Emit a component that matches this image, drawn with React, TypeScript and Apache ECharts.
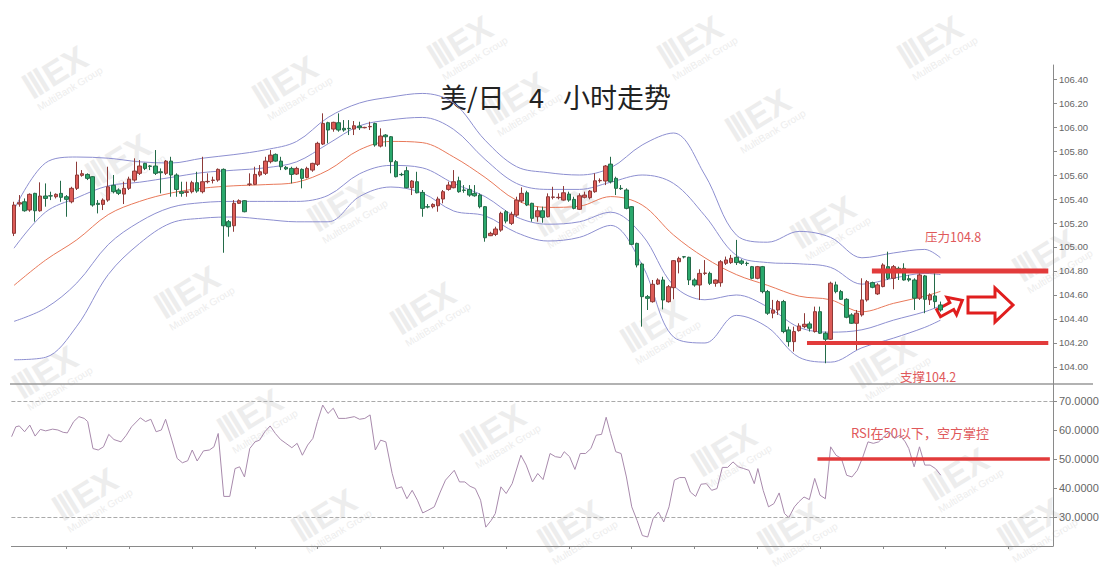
import React, { useEffect, useRef } from 'react';
import * as echarts from 'echarts';

// ---------- data ----------
const slotCount = 199; // 178 candles + empty future slots
const slots = Array.from({ length: slotCount }, (_, i) => String(i));

// [open, close, low, high]
const candles: number[][] = [
  [105.114,105.350,105.091,105.377],[105.358,105.369,105.336,105.433],[105.377,105.302,105.294,105.405],[105.308,105.439,105.294,105.447],
  [105.447,105.302,105.211,105.452],[105.302,105.425,105.294,105.539],[105.425,105.405,105.336,105.530],[105.427,105.425,105.391,105.461],
  [105.419,105.439,105.405,105.447],[105.447,105.414,105.377,105.552],[105.419,105.397,105.252,105.433],[105.377,105.489,105.364,105.502],
  [105.489,105.600,105.475,105.711],[105.597,105.611,105.586,105.641],[105.605,105.572,105.558,105.614],[105.586,105.350,105.336,105.591],
  [105.364,105.355,105.280,105.391],[105.355,105.391,105.308,105.405],[105.391,105.502,105.377,105.669],[105.514,105.461,105.447,105.600],
  [105.475,105.447,105.433,105.489],[105.441,105.489,105.358,105.544],[105.489,105.566,105.475,105.586],[105.558,105.633,105.544,105.739],
  [105.614,105.675,105.600,105.725],[105.697,105.655,105.641,105.702],[105.675,105.672,105.641,105.683],[105.675,105.614,105.600,105.808],
  [105.627,105.619,105.447,105.655],[105.614,105.716,105.600,105.725],[105.716,105.600,105.419,105.752],[105.600,105.480,105.419,105.614],
  [105.461,105.447,105.419,105.544],[105.455,105.461,105.419,105.544],[105.461,105.536,105.447,105.552],[105.536,105.466,105.452,105.627],
  [105.461,105.544,105.447,105.752],[105.544,105.547,105.530,105.614],[105.555,105.558,105.530,105.586],[105.558,105.647,105.544,105.655],
  [105.647,105.177,104.952,105.655],[105.211,105.169,105.086,105.225],[105.177,105.364,105.127,105.391],[105.364,105.386,105.358,105.397],
  [105.386,105.294,105.289,105.391],[105.522,105.525,105.508,105.614],[105.522,105.605,105.516,105.669],[105.600,105.627,105.586,105.683],
  [105.614,105.716,105.600,105.752],[105.711,105.766,105.697,105.808],[105.772,105.716,105.711,105.780],[105.716,105.669,105.641,105.752],
  [105.664,105.650,105.641,105.675],[105.655,105.605,105.530,105.669],[105.608,105.655,105.600,105.669],[105.647,105.572,105.489,105.655],
  [105.580,105.655,105.572,105.669],[105.641,105.697,105.627,105.702],[105.689,105.864,105.675,105.877],[105.858,106.030,105.850,106.114],
  [106.036,105.975,105.864,106.044],[105.983,106.039,105.961,106.044],[106.036,105.975,105.961,106.114],[105.989,105.975,105.961,106.058],
  [105.989,105.986,105.933,106.058],[105.983,106.011,105.933,106.050],[106.008,105.994,105.975,106.044],[105.994,105.997,105.989,106.002],
  [106.002,106.005,105.975,106.044],[106.030,105.850,105.836,106.036],[105.841,105.925,105.830,105.989],[105.933,105.919,105.836,105.941],
  [105.919,105.711,105.614,105.925],[105.711,105.586,105.580,105.725],[105.605,105.602,105.591,105.619],[105.636,105.494,105.489,105.669],
  [105.494,105.550,105.433,105.558],[105.544,105.452,105.447,105.627],[105.455,105.322,105.252,105.475],[105.336,105.333,105.322,105.358],
  [105.336,105.355,105.322,105.364],[105.344,105.400,105.294,105.419],[105.400,105.461,105.364,105.475],[105.480,105.516,105.469,105.544],
  [105.494,105.544,105.489,105.641],[105.552,105.461,105.452,105.586],[105.475,105.472,105.452,105.516],[105.480,105.433,105.419,105.516],
  [105.447,105.427,105.419,105.516],[105.433,105.336,105.322,105.447],[105.336,105.077,105.044,105.341],[105.094,105.114,105.091,105.127],
  [105.105,105.150,105.091,105.169],[105.141,105.280,105.127,105.294],[105.294,105.216,105.197,105.308],[105.197,105.272,105.183,105.294],
  [105.266,105.391,105.252,105.419],[105.383,105.447,105.369,105.497],[105.452,105.350,105.341,105.469],[105.364,105.239,105.211,105.369],
  [105.252,105.302,105.211,105.336],[105.302,105.247,105.202,105.336],[105.252,105.419,105.247,105.447],[105.414,105.417,105.397,105.502],
  [105.411,105.414,105.397,105.447],[105.391,105.452,105.386,105.508],[105.441,105.391,105.377,105.461],[105.397,105.322,105.314,105.419],
  [105.314,105.427,105.308,105.447],[105.414,105.433,105.405,105.461],[105.411,105.466,105.397,105.475],[105.461,105.552,105.452,105.614],
  [105.552,105.555,105.536,105.572],[105.550,105.675,105.516,105.683],[105.691,105.544,105.530,105.752],[105.572,105.489,105.433,105.586],
  [105.489,105.486,105.475,105.516],[105.475,105.322,105.314,105.489],[105.336,105.022,105.016,105.341],[105.030,104.850,104.830,105.036],
  [104.858,104.586,104.336,104.869],[104.586,104.572,104.475,104.600],[104.544,104.689,104.536,104.725],[104.691,104.725,104.683,104.739],
  [104.725,104.558,104.480,104.752],[104.544,104.669,104.536,104.683],[104.661,104.886,104.564,104.891],[104.877,104.905,104.780,104.919],
  [104.919,104.917,104.905,104.925],[104.914,104.725,104.683,104.919],[104.725,104.683,104.669,104.739],[104.683,104.780,104.558,104.814],
  [104.780,104.783,104.766,104.891],[104.780,104.697,104.683,104.794],[104.697,104.725,104.669,104.730],[104.702,104.877,104.669,104.891],
  [104.864,104.892,104.850,104.920],[104.870,104.906,104.859,104.934],[104.914,104.870,104.850,105.059],[104.884,104.864,104.850,104.898],
  [104.864,104.862,104.842,104.878],[104.836,104.739,104.731,104.842],[104.739,104.836,104.731,104.842],[104.836,104.628,104.614,104.842],
  [104.628,104.448,104.434,104.642],[104.448,104.475,104.406,104.559],[104.475,104.545,104.434,104.559],[104.545,104.295,104.281,104.559],
  [104.309,104.211,104.170,104.336],[104.211,104.295,104.128,104.336],[104.303,104.342,104.295,104.364],[104.336,104.356,104.323,104.448],
  [104.359,104.323,104.295,104.378],[104.295,104.461,104.286,104.503],[104.461,104.281,104.275,104.503],[104.281,104.231,104.031,104.295],
  [104.231,104.698,104.225,104.711],[104.684,104.628,104.614,104.711],[104.628,104.564,104.559,104.642],[104.564,104.414,104.406,104.573],
  [104.434,104.364,104.359,104.448],[104.364,104.448,104.142,104.475],[104.434,104.559,104.420,104.739],[104.559,104.711,104.545,104.725],
  [104.703,104.664,104.656,104.711],[104.609,104.684,104.600,104.698],[104.670,104.850,104.664,104.864],[104.836,104.739,104.725,104.961],
  [104.739,104.836,104.648,104.850],[104.822,104.795,104.725,104.836],[104.822,104.725,104.720,104.864],[104.736,104.725,104.711,104.767],
  [104.725,104.573,104.475,104.739],[104.573,104.767,104.559,104.781],[104.759,104.564,104.448,104.767],[104.559,104.600,104.517,104.614],
  [104.592,104.545,104.489,104.781],[104.517,104.475,104.461,104.545],
];

// Bollinger lines read at these candle positions
const bandIdx = [0,6,12,18,24,30,36,42,48,54,60,66,72,78,84,90,96,102,108,114,120,126,132,138,144,150,156,162,168,174,177];
const upperOuter = [105.31,105.70,105.75,105.74,105.71,105.70,105.74,105.77,105.81,105.88,106.08,106.20,106.25,106.28,106.20,105.89,105.67,105.62,105.60,105.66,105.85,105.95,105.60,105.10,105.04,105.13,105.08,104.91,104.95,104.98,104.91];
const upperInner = [104.99,105.29,105.41,105.51,105.54,105.58,105.62,105.64,105.66,105.71,105.86,106.01,106.06,106.08,105.98,105.73,105.53,105.48,105.48,105.54,105.60,105.53,105.26,104.93,104.87,104.86,104.83,104.69,104.74,104.78,104.77];
const middle = [104.68,104.89,105.06,105.27,105.38,105.45,105.49,105.51,105.52,105.54,105.64,105.81,105.88,105.87,105.75,105.58,105.39,105.33,105.34,105.42,105.35,105.10,104.91,104.77,104.68,104.59,104.56,104.46,104.53,104.59,104.63];
const lowerInner = [104.38,104.49,104.70,105.02,105.21,105.33,105.37,105.38,105.38,105.38,105.43,105.61,105.68,105.66,105.53,105.42,105.25,105.19,105.21,105.29,105.10,104.68,104.56,104.60,104.50,104.33,104.29,104.31,104.39,104.46,104.51];
const lowerOuter = [104.06,104.08,104.34,104.77,105.03,105.20,105.24,105.25,105.23,105.21,105.21,105.42,105.50,105.45,105.30,105.26,105.12,105.05,105.08,105.18,104.85,104.25,104.20,104.43,104.33,104.08,104.04,104.16,104.24,104.33,104.39];

// RSI readings: [candle position, value]
const rsi: number[][] = [
  [-0.46,57.7],[0.34,61.1],[1.01,61.4],[2.02,59.4],[3.02,61.7],[4.03,57.9],[5.03,60.2],[6.04,59.7],[7.38,60.3],[8.38,60.0],
  [9.39,59.2],[10.19,59.0],[11.40,62.9],[12.40,64.6],[13.41,64.0],[14.08,62.9],[15.08,53.6],[16.09,53.1],[17.09,54.2],[18.10,58.5],
  [19.10,56.7],[20.44,55.9],[21.45,58.2],[22.46,61.1],[24.13,64.2],[25.14,62.9],[26.14,63.7],[27.15,59.4],[28.15,60.0],[28.96,63.7],
  [30.16,56.5],[31.17,50.2],[32.17,48.7],[33.18,49.4],[34.05,53.1],[34.99,49.3],[36.19,52.8],[37.33,53.1],[38.20,54.2],[39.01,58.8],
  [40.08,37.1],[41.22,37.1],[42.23,46.7],[43.10,47.3],[44.03,43.8],[45.04,53.6],[46.04,55.9],[46.92,56.5],[47.92,59.4],[48.93,61.4],
  [49.93,58.8],[50.94,56.7],[51.94,55.4],[53.08,53.9],[54.09,55.4],[55.09,51.3],[56.10,54.8],[57.10,57.1],[57.97,62.9],[58.98,68.6],
  [59.98,65.7],[60.99,67.5],[61.99,64.0],[63.34,64.0],[65.01,64.6],[66.02,63.7],[67.02,64.0],[68.03,65.2],[69.03,53.1],[70.04,56.5],
  [71.04,55.9],[72.25,45.0],[73.05,39.8],[74.06,40.4],[75.06,36.3],[76.07,39.2],[77.07,35.8],[78.08,31.4],[79.08,32.3],[80.29,33.5],
  [81.43,38.6],[82.43,42.7],[84.11,46.1],[85.11,42.1],[86.12,42.1],[87.13,40.6],[88.13,39.8],[89.14,35.8],[90.14,26.5],[91.15,28.8],
  [91.95,31.2],[93.02,40.4],[94.03,38.1],[95.17,41.5],[96.84,51.3],[97.85,47.9],[99.05,42.1],[100.06,45.0],[101.07,42.9],[102.41,51.9],
  [103.43,50.8],[104.45,50.5],[105.12,52.5],[106.14,50.8],[107.16,46.4],[108.18,51.9],[109.20,51.9],[110.21,53.6],[111.23,58.2],[112.25,58.5],
  [113.13,64.4],[113.95,58.8],[114.97,52.5],[115.98,51.9],[117.00,43.8],[118.02,33.5],[119.04,28.8],[120.05,23.6],[121.07,23.1],[122.09,29.4],
  [123.11,31.7],[124.13,28.3],[125.14,33.5],[126.16,42.7],[127.18,43.6],[128.20,43.6],[129.22,38.6],[130.23,37.1],[131.25,41.3],[132.27,41.5],
  [133.29,39.2],[134.31,39.8],[135.32,47.1],[136.34,47.1],[137.36,49.0],[138.38,47.3],[139.40,46.7],[140.41,46.1],[141.43,41.5],[142.11,46.7],
  [143.13,39.2],[144.15,33.5],[145.17,34.6],[146.18,38.3],[147.20,31.2],[148.02,29.8],[149.10,33.5],[149.92,35.2],[150.93,36.9],[151.95,36.0],
  [152.97,43.3],[153.99,37.5],[155.01,36.3],[156.02,54.2],[157.04,51.3],[158.06,50.2],[159.08,44.4],[160.09,43.8],[161.11,46.1],[162.13,50.5],
  [163.15,55.9],[164.17,55.4],[165.19,55.9],[166.20,57.7],[167.22,59.4],[168.24,57.1],[169.26,58.2],[170.28,55.9],[170.95,53.6],[171.97,47.3],
  [172.99,54.2],[174.01,47.9],[175.02,47.9],[176.04,46.7],[177.06,44.4],
];

const priceTicks = [104.0,104.2,104.4,104.6,104.8,105.0,105.2,105.4,105.6,105.8,106.0,106.2,106.4];
const rsiTicks = [30,40,50,60,70];
const timeTicks = [10,22,34,46,58,70,82,94,106,118,130,142,154,166,178,190];

const resistance = { level: 104.8, from: 163.9, to: 197.6, label: '压力104.8' };
const support = { level: 104.2, from: 151.5, to: 197.6, label: '支撑104.2' };
const rsiMid = { level: 50, from: 153.5, to: 197.9, label: 'RSI在50以下，空方掌控' };
const rsiBounds = [70, 30];

// watermark logo centres (decoration), kept inside the page
const watermarkSpots = [
  [460, 42], [690, 42], [930, 42],
  [55, 72], [285, 82], [515, 98], [758, 115],
  [118, 160], [340, 205], [565, 210], [823, 222], [1045, 255],
  [187, 292], [423, 308], [653, 326], [883, 362],
  [45, 372], [250, 415], [493, 430], [724, 450], [956, 474],
  [85, 494], [324, 515], [570, 526], [790, 528], [1030, 524],
];

const pair = (vals: number[]) => vals.map((v, k) => [bandIdx[k], v]);

export default function App() {
  const ref = useRef<HTMLDivElement>(null);
  useEffect(() => {
    if (!ref.current) return;
    const chart = echarts.init(ref.current, null, { renderer: 'svg' });
    const axisGray = '#8a8a8a';
    const labelStyle = { color: '#666', fontSize: 9.5, fontFamily: 'Liberation Sans, Arial, sans-serif' };
    const bandLine = (name: string, vals: number[], color: string) => ({
      name, type: 'line', xAxisIndex: 1, yAxisIndex: 0, data: pair(vals), showSymbol: false, symbol: 'none',
      smooth: 0.35, lineStyle: { color, width: 1 }, silent: true, z: 2,
    });
    const red = '#e23b3b';
    const annRed = '#e0585a';
    const watermarks = watermarkSpots.map(([x, y]) => ({
      type: 'group', x, y, rotation: 0.55, silent: true, z: -5,
      children: [
        { type: 'text', x: 0, y: 0, z: -5, style: { text: 'ⅢEX', fontSize: 34, fontWeight: 'bold', fill: '#ededed', align: 'center', verticalAlign: 'middle', fontFamily: 'Liberation Sans, Arial' } },
        { type: 'text', x: 4, y: 22, z: -5, style: { text: 'MultiBank Group', fontSize: 10, fill: '#ededed', align: 'center', verticalAlign: 'middle', fontFamily: 'Liberation Sans, Arial' } },
      ],
    }));
    const option: any = {
      animation: false,
      backgroundColor: '#ffffff',
      textStyle: { fontFamily: 'Noto Sans CJK SC, sans-serif' },
      grid: [
        { left: 11.4, right: 54, top: 65, height: 319 },
        { left: 11.4, right: 54, top: 384, height: 162 },
      ],
      xAxis: [
        { type: 'category', gridIndex: 0, data: slots, boundaryGap: true, show: false },
        { type: 'value', gridIndex: 0, min: -0.5, max: 198.5, show: false },
        {
          type: 'value', gridIndex: 1, min: -0.5, max: 198.5,
          axisLine: { show: true, onZero: false, lineStyle: { color: axisGray, width: 1 } },
          axisTick: { show: true, length: 3, customValues: timeTicks, lineStyle: { color: axisGray } },
          axisLabel: { show: false }, splitLine: { show: false },
        },
      ],
      yAxis: [
        {
          type: 'value', gridIndex: 0, position: 'right', min: 103.858, max: 106.517,
          axisLine: { show: true, onZero: false, lineStyle: { color: axisGray } },
          axisTick: { show: true, length: 4, customValues: priceTicks, lineStyle: { color: axisGray } },
          axisLabel: { ...labelStyle, margin: 6, customValues: priceTicks, formatter: (v: number) => v.toFixed(2) },
          splitLine: { show: false },
        },
        {
          type: 'value', gridIndex: 1, position: 'right', min: 20, max: 75.86,
          axisLine: { show: true, onZero: false, lineStyle: { color: axisGray } },
          axisTick: { show: true, length: 4, customValues: rsiTicks, lineStyle: { color: axisGray } },
          axisLabel: { ...labelStyle, fontSize: 11, margin: 6, customValues: rsiTicks, formatter: (v: number) => v.toFixed(4) },
          splitLine: { show: false },
        },
      ],
      series: [
        bandLine('upperOuter', upperOuter, '#8d8fd0'),
        bandLine('upperInner', upperInner, '#8d8fd0'),
        bandLine('middle', middle, '#e8795a'),
        bandLine('lowerInner', lowerInner, '#8d8fd0'),
        bandLine('lowerOuter', lowerOuter, '#8d8fd0'),
        {
          type: 'candlestick', xAxisIndex: 0, yAxisIndex: 0, data: candles, barWidth: 4, z: 3,
          itemStyle: { color: '#dc5b57', color0: '#2aa86c', borderColor: '#8e3a38', borderColor0: '#246b49', borderWidth: 1 },
        },
        {
          type: 'line', xAxisIndex: 1, yAxisIndex: 0, symbol: 'none', silent: true, z: 4,
          data: [[resistance.from, resistance.level], [resistance.to, resistance.level]],
          lineStyle: { color: red, width: 5 },
        },
        {
          type: 'line', xAxisIndex: 1, yAxisIndex: 0, symbol: 'none', silent: true, z: 4,
          data: [[support.from, support.level], [support.to, support.level]],
          lineStyle: { color: red, width: 4 },
        },
        {
          type: 'line', xAxisIndex: 2, yAxisIndex: 1, data: rsi, symbol: 'none', silent: true,
          lineStyle: { color: '#a88aac', width: 1 }, z: 2,
          markLine: {
            silent: true, symbol: 'none', label: { show: false },
            lineStyle: { type: 'dashed', color: '#aaaaaa', width: 1 },
            data: rsiBounds.map((v) => ({ yAxis: v })),
          },
        },
        {
          type: 'line', xAxisIndex: 2, yAxisIndex: 1, symbol: 'none', silent: true, z: 4,
          data: [[rsiMid.from, rsiMid.level], [rsiMid.to, rsiMid.level]],
          lineStyle: { color: red, width: 3.5 },
        },
      ],
      graphic: [
        ...watermarks,
        { type: 'line', shape: { x1: 10, y1: 384, x2: 1093, y2: 384 }, style: { stroke: '#999', lineWidth: 1.5 }, silent: true },
        { type: 'text', x: 440, y: 83, style: { text: '美/日', fontSize: 27, fill: '#222', fontFamily: 'Noto Sans CJK SC' } },
        { type: 'text', x: 529, y: 83, style: { text: '4', fontSize: 27, fill: '#222', fontFamily: 'Noto Sans CJK SC' } },
        { type: 'text', x: 563, y: 83, style: { text: '小时走势', fontSize: 27, fill: '#222', fontFamily: 'Noto Sans CJK SC' } },
        { type: 'text', x: 925, y: 230, style: { text: resistance.label, fontSize: 12.5, fill: annRed, fontFamily: 'Noto Sans CJK SC' } },
        { type: 'text', x: 900, y: 370, style: { text: support.label, fontSize: 12.5, fill: annRed, fontFamily: 'Noto Sans CJK SC' } },
        { type: 'text', x: 851, y: 426, style: { text: rsiMid.label, fontSize: 13, fill: annRed, fontFamily: 'Noto Sans CJK SC' } },
        {
          type: 'polygon',
          shape: { points: [[968, 297], [995, 297], [995, 288], [1013, 305], [995, 322], [995, 313], [968, 313]] },
          style: { fill: '#fff', stroke: '#e01e1e', lineWidth: 3 }, z: 10,
        },
        {
          type: 'group', x: 950, y: 307, rotation: 0.5, z: 10,
          children: [{
            type: 'polygon',
            shape: { points: [[-13, -4], [2, -4], [2, -10], [14, 0], [2, 10], [2, 4], [-13, 4]] },
            style: { fill: '#fff', stroke: '#e01e1e', lineWidth: 3 },
          }],
        },
      ],
    };
    chart.setOption(option);
    return () => chart.dispose();
  }, []);
  return <div ref={ref} style={{ position: 'absolute', left: 0, top: 0, width: 1107, height: 576, background: '#fff' }} />;
}
